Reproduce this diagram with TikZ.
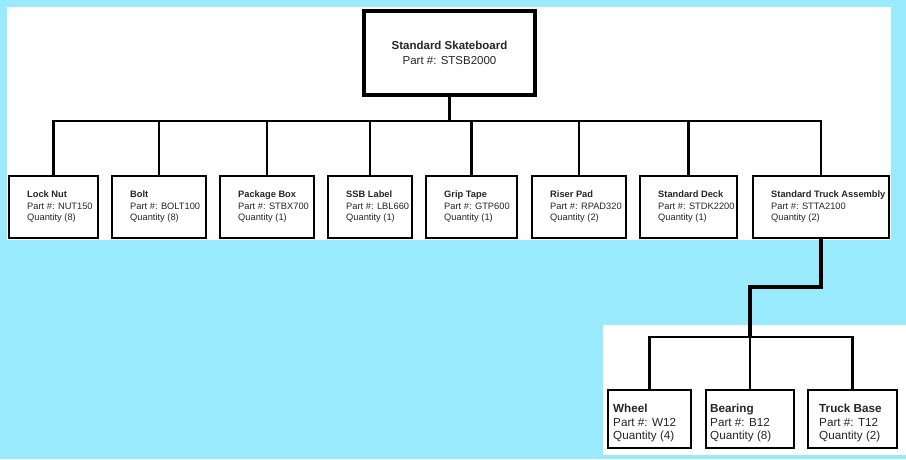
\documentclass[tikz,border=0pt]{standalone}
\usepackage{fontspec}
\setmainfont{Liberation Sans}
\usepackage{tikz}
\definecolor{skyback}{RGB}{153,234,252}
\tikzset{
  part/.style={draw, fill=white, line width=2.4pt, minimum height=61.6pt},
  info/.style={anchor=west, align=left, inner sep=0pt, text=black!85,
    font=\fontsize{9.3}{11.5}\selectfont},
  subpart/.style={draw, fill=white, line width=2.4pt, minimum height=57.6pt},
  subinfo/.style={anchor=west, align=left, inner sep=0pt, text=black!85,
    font=\fontsize{11.7}{13.5}\selectfont},
  bus/.style={line width=2.2pt},
  feed/.style={line width=3.5pt}
}

\begin{document}
\begin{tikzpicture}[x=1pt, y=-1pt]
  \useasboundingbox (0,0) rectangle (906,459);
  % backdrop
  \fill[skyback] (0,0) rectangle (906,459);
  \fill[white] (7,7) rectangle (891,240);
  \fill[white] (603,325) rectangle (906,455);

  \node (AA) at (449.5, 53) [draw, fill=white, line width=4pt, minimum width=171pt,
    minimum height=84pt, align=center, font=\fontsize{11.5}{15}\selectfont, text=black!85]
    {\textbf{Standard Skateboard}\\Part \#: STSB2000};

  \node (BA) at (53.5, 207) [part, minimum width=88.6pt] {};
  \node (BB) at (159, 207) [part, minimum width=93.6pt] {};
  \node (BC) at (267, 207) [part, minimum width=93.6pt] {};
  \node (BD) at (370, 207) [part, minimum width=83.6pt] {};
  \node (BE) at (471.5, 207) [part, minimum width=90.6pt] {};
  \node (BF) at (579, 207) [part, minimum width=93.6pt] {};
  \node (BG) at (688.5, 207) [part, minimum width=96.6pt] {};
  \node (BH) at (821, 207) [part, minimum width=135.6pt] {};
  \node (BAt) at ([xshift=19pt]BA.west) [info] {\textbf{Lock Nut}\\Part \#: NUT150\\Quantity (8)};
  \node (BBt) at ([xshift=19pt]BB.west) [info] {\textbf{Bolt}\\Part \#: BOLT100\\Quantity (8)};
  \node (BCt) at ([xshift=19pt]BC.west) [info] {\textbf{Package Box}\\Part \#: STBX700\\Quantity (1)};
  \node (BDt) at ([xshift=19pt]BD.west) [info] {\textbf{SSB Label}\\Part \#: LBL660\\Quantity (1)};
  \node (BEt) at ([xshift=19pt]BE.west) [info] {\textbf{Grip Tape}\\Part \#: GTP600\\Quantity (1)};
  \node (BFt) at ([xshift=19pt]BF.west) [info] {\textbf{Riser Pad}\\Part \#: RPAD320\\Quantity (2)};
  \node (BGt) at ([xshift=19pt]BG.west) [info] {\textbf{Standard Deck}\\Part \#: STDK2200\\Quantity (1)};
  \node (BHt) at ([xshift=19pt]BH.west) [info] {\textbf{Standard Truck Assembly}\\Part \#: STTA2100\\Quantity (2)};

  \node (CA) at (649.5, 419) [subpart, minimum width=82.6pt] {};
  \node (CB) at (750, 419) [subpart, minimum width=87.6pt] {};
  \node (CC) at (852.5, 419) [subpart, minimum width=88.6pt] {};
  \node (CAt) at ([xshift=6pt, yshift=-4pt]CA.west) [subinfo] {\textbf{Wheel}\\Part \#: W12\\Quantity (4)};
  \node (CBt) at ([xshift=5pt, yshift=-4pt]CB.west) [subinfo] {\textbf{Bearing}\\Part \#: B12\\Quantity (8)};
  \node (CCt) at ([xshift=12pt, yshift=-4pt]CC.west) [subinfo] {\textbf{Truck Base}\\Part \#: T12\\Quantity (2)};
  \coordinate (CH) at (750, 337);

  \draw [bus] (AA.south) -- ++(0,24) -| (BA.north);
  \draw [bus] (AA.south) -- ++(0,24) -| (BB.north);
  \draw [bus] (AA.south) -- ++(0,24) -| (BC.north);
  \draw [bus] (AA.south) -- ++(0,24) -| (BD.north);
  \draw [bus] (AA.south) -- ++(0,24) -| (BE.north);
  \draw [bus] (AA.south) -- ++(0,24) -| (BF.north);
  \draw [bus] (AA.south) -- ++(0,24) -| (BG.north);
  \draw [bus] (AA.south) -- ++(0,24) -| (BH.north);
  \draw [feed] (BH.south) -- ++(0,48) -| (CH);
  \draw [bus] (CH) -| (CA.north);
  \draw [bus] (CH) -- (CB.north);
  \draw [bus] (CH) -| (CC.north);
\end{tikzpicture}
\end{document}
